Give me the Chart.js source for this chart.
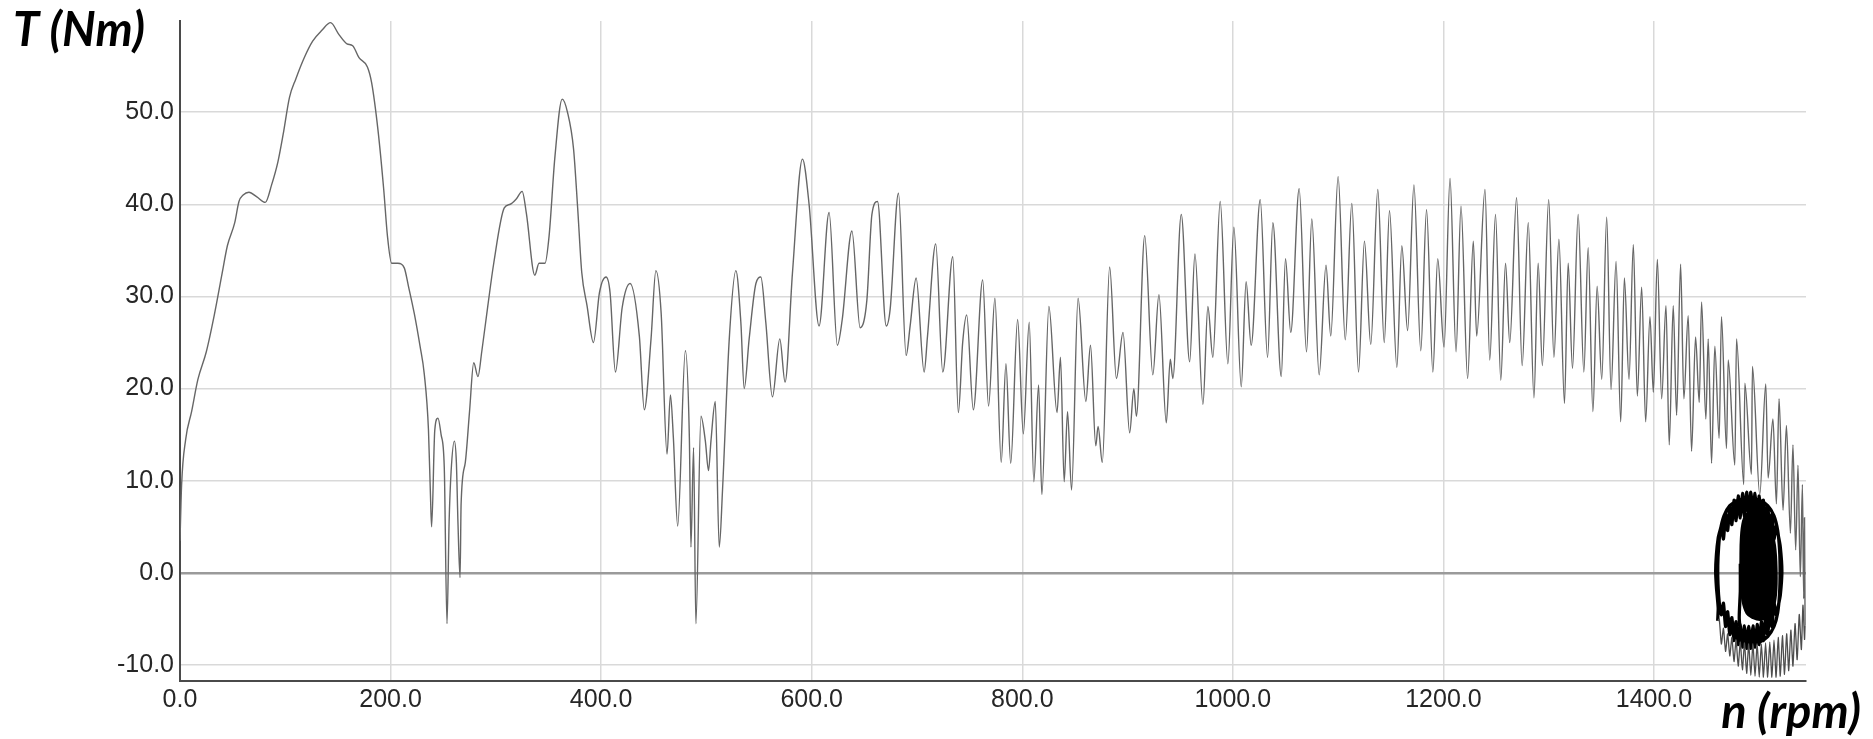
<!DOCTYPE html>
<html>
<head>
<meta charset="utf-8">
<script src="https://cdn.jsdelivr.net/npm/chart.js@4.4.1/dist/chart.umd.min.js"></script>
<style>
  html, body { margin: 0; padding: 0; background: #ffffff; }
  #wrap { position: relative; width: 1873px; height: 739px; }
  canvas { display: block; }
</style>
</head>
<body>
<div id="wrap"><canvas id="c" width="1873" height="739"></canvas></div>
<script>
// ---------------- data ----------------
const yTitle = 'T (Nm)';
const xTitle = 'n (rpm)';
const xTickValues = [0, 200, 400, 600, 800, 1000, 1200, 1400];
const yTickValues = [-10, 0, 10, 20, 30, 40, 50];

// main run-up curve: speed n (rpm) and torque T (Nm)
const speedMain = [
  0, 1.5, 5.4, 11, 17, 25, 32.6, 40, 45, 52, 56, 60, 65.5, 73, 81, 87, 93, 98, 104, 110,
  118, 126, 135, 143, 151, 158.6, 164, 170, 178, 182, 188, 193.5, 197, 201, 207, 213, 217, 222.6, 228, 232,
  236, 238, 239, 242, 245, 248, 251, 253.6, 255.6, 257.5, 260.6, 262.5, 264, 266, 267, 271, 275, 279, 283, 286.6,
  292.4, 298, 308, 313.7, 319.6, 325, 329, 337, 341, 346.7, 350.6, 356, 363, 368, 373.8, 377.7, 381.6, 386.6, 392.7, 398.4,
  404.7, 408.5, 413.6, 420, 427.5, 436.3, 441, 447.4, 452, 457, 462.6, 465.8, 468.6, 472.7, 480, 483.8, 485.3, 487.8, 490, 494.8,
  499, 502, 504.3, 508.4, 512.2, 515.3, 521.7, 528, 532.7, 535.9, 540.6, 547, 551.7, 556.4, 562.7, 569.7, 574.7, 581.7, 591.2, 597.5,
  607, 616.5, 624.4, 629, 638.2, 646, 652.4, 657.2, 662.5, 670.8, 674.5, 682.4, 689.7, 693.5, 699.2, 706.8, 710, 717.8, 724.5, 734,
  739.3, 743.4, 747.2, 753.5, 762.4, 768, 774, 780, 784.5, 789, 795.6, 801, 806.6, 811, 815.5, 818.6, 825.3, 833, 836.3, 839.8,
  843, 846.8, 853, 860.4, 864.8, 869.8, 872, 876, 883, 889.4, 895.7, 902, 906, 908.4, 916.3, 924, 929.8, 936.8, 940.6, 943,
  951, 959, 964, 971.6, 976.3, 981, 988, 995.3, 1001, 1008, 1012.6, 1017.4, 1026, 1033, 1038, 1046, 1050, 1055, 1063, 1070,
  1075, 1082, 1088.5, 1093, 1100, 1106.8, 1113, 1119.4, 1125, 1131, 1137.7, 1143.8, 1148.8, 1155.8, 1160.5, 1166, 1172, 1178.5, 1184, 1190,
  1194.6, 1200.6, 1206.3, 1212, 1216.7, 1223, 1228.4, 1231.6, 1239.5, 1244, 1249.5, 1254.5, 1259, 1263, 1269.5, 1274.8, 1280.6, 1286, 1290, 1294,
  1300, 1305, 1309.7, 1315, 1318.5, 1322.6, 1328, 1333.4, 1337.5, 1342, 1346, 1350.4, 1355.1, 1359.2, 1364, 1368.4, 1371.9, 1376.3, 1380.4, 1384.2,
  1388.3, 1392.1, 1396.2, 1399.4, 1403.2, 1407.3, 1411.4, 1414.5, 1418.3, 1421.5, 1425.3, 1428.4, 1432.5, 1435.7, 1439.5, 1443, 1445.2, 1449.3, 1451.5, 1454.7,
  1457.8, 1461.9, 1464.1, 1468.9, 1470.5, 1476.8, 1478.4, 1485.3, 1486.3, 1492.6, 1493.5, 1500.5, 1506.2, 1508.4, 1513, 1516.3, 1518.8, 1522.6, 1525.8, 1529.6,
  1532, 1534.6, 1536.8, 1539, 1541, 1542.2, 1543, 1543.5
];
const torqueMain = [
  3.5, 9.5, 14.5, 17.5, 21, 24, 28, 32.5, 35.5, 38, 40.3, 41, 41.3, 40.8, 40.2, 42.1, 44.6, 47.6, 51.6, 53.6,
  55.9, 57.7, 58.9, 59.7, 58.4, 57.4, 57.2, 55.9, 54.9, 53.2, 48.1, 41.6, 36.6, 33.6, 33.6, 33.1, 31.1, 28.1, 24.6, 21.6,
  15.5, 8, 5, 15.5, 16.8, 15, 11.5, -5.5, 5.5, 11, 14.3, 12, 5.5, -0.5, 7.5, 12, 17.5, 22.8, 21.3, 24,
  29, 33.6, 39.6, 40, 40.6, 41.4, 39, 32.3, 33.6, 33.6, 36.6, 45, 51.4, 50, 46, 39.6, 32.6, 29, 25, 30.4,
  32.1, 30.4, 21.8, 28.8, 31.4, 25.7, 17.7, 25.4, 32.8, 28.2, 12.9, 19.3, 14.7, 5.1, 24.1, 14.7, 2.8, 13.6, -5.5, 17,
  14.3, 11.1, 14.3, 18.6, 2.8, 9, 25.4, 32.8, 27.2, 20, 25.4, 31.4, 32.1, 27.2, 19.1, 25.4, 20.7, 32.5, 44.9, 40,
  26.8, 39.1, 24.7, 27.5, 37.1, 26.6, 29.6, 38.9, 40.3, 26.8, 28.6, 41.2, 23.6, 26.8, 32, 21.8, 25.7, 35.7, 21.8, 34.3,
  17.4, 25, 28, 17.7, 31.8, 18.1, 29.8, 12, 22.7, 11.9, 27.5, 15.1, 27.2, 9.9, 20.4, 8.5, 28.9, 17.4, 23.4, 9.9,
  17.5, 9, 29.8, 18.6, 24.7, 13.8, 15.9, 12, 33.2, 21.1, 26.1, 15.2, 20, 17, 36.6, 21.5, 30.2, 16.3, 23.2, 21.1,
  38.9, 22.9, 34.6, 18.3, 28.9, 23.4, 40.3, 22.7, 37.5, 20.2, 31.6, 24.7, 40.5, 23.4, 38, 21.3, 34.1, 26.1, 41.7, 24,
  38.4, 21.5, 33.4, 25.7, 43, 25.3, 40.1, 21.8, 36, 24.8, 41.6, 25, 39.3, 22.3, 35.5, 26.3, 42.1, 24.1, 39.4, 21.8,
  34.1, 24.5, 42.8, 24, 39.8, 21.1, 36, 25.7, 41.6, 23.1, 38.9, 20.9, 33.6, 25, 40.7, 22.5, 38, 19, 33.6, 22.5,
  40.5, 23.4, 36.2, 18.4, 33.6, 22.2, 38.9, 21.8, 35.3, 17.5, 31.1, 21, 38.6, 19.9, 33.8, 16.4, 32, 21, 35.6, 19.2,
  31, 16.4, 27.8, 19.6, 34, 18.9, 29, 13.9, 29, 17.1, 33.5, 18.9, 27.9, 13.2, 25.6, 18.5, 29.4, 16.7, 25.4, 11.9,
  24.6, 14.6, 27.8, 13.5, 23.1, 11.7, 25.4, 9.6, 20.6, 10.7, 22.4, 8.5, 20.5, 10.3, 16.7, 7.5, 18.9, 6.8, 16, 4.3,
  13.9, 2.5, 11.7, -0.4, 9.6, -2.8, 6, -5.7
];

// overshoot above synchronous speed: speed falls back while torque ripples (lower hatch)
const speedTail = [
  1543.5, 1543, 1541.5, 1540, 1538, 1536, 1534, 1532, 1530, 1528, 1526, 1524, 1522, 1520, 1518, 1516, 1514, 1512, 1510, 1508,
  1506, 1504, 1502, 1500, 1498, 1496, 1494, 1492, 1490, 1488, 1486, 1484, 1482, 1480, 1478, 1476, 1474, 1472, 1470, 1468,
  1466, 1464, 1462, 1460.5
];
const torqueTail = [
  -5.7, -7.2, -3.5, -8.3, -4.5, -9.4, -5.5, -10.1, -6.2, -10.6, -6.6, -11, -6.8, -11.2, -7, -11.3, -7.3, -11.3, -7.5, -11.3,
  -7.6, -11.3, -7.7, -11.3, -7.7, -11.2, -7.7, -11.1, -7.7, -10.9, -7.6, -10.5, -7.5, -10.1, -7.3, -9.6, -7, -9, -6.6, -8.5,
  -6, -7.7, -5, -5.2
];

// speed hunting around steady state: the dense black ring of the "eye"
const speedRing = [
  1460.5, 1461, 1459.3, 1458.6, 1459.3, 1461, 1462.5,
  1464, 1466, 1468, 1470, 1472, 1474, 1476, 1478, 1480, 1482, 1484, 1486, 1488, 1490,
  1492, 1494, 1496, 1498, 1500, 1502, 1504, 1506, 1508, 1510, 1512, 1514, 1516,
  1518, 1520, 1521.5, 1520, 1518,
  1516, 1514, 1512, 1510, 1508, 1506, 1504, 1502, 1500, 1498, 1496, 1494, 1492, 1490,
  1488, 1486, 1484, 1482, 1480, 1478, 1476, 1474, 1472, 1470, 1468, 1466, 1464,
  1462, 1460.8, 1460.6,
  1461.4, 1463, 1466.5, 1472, 1480, 1490, 1500, 1508, 1514, 1517.5, 1519.3, 1519.8, 1519.3, 1517.5, 1514, 1508, 1500, 1490, 1484,
  1481, 1482, 1482
];
const torqueRing = [
  -5.2, -3.8, -1.5, 0.2, 2, 3.8, 4.5,
  5.06, 3.69, 6.35, 4.61, 7.26, 5.24, 7.9, 5.68, 8.35, 5.98, 8.64, 6.14, 8.78, 6.2,
  8.78, 6.14, 8.64, 5.98, 8.35, 5.68, 7.9, 5.24, 7.26, 4.61, 6.35, 3.69, 5.06,
  4.1, 2.8, 0.2, -2.4, -3.6,
  -4.55, -3.29, -5.81, -4.21, -6.69, -4.84, -7.32, -5.28, -7.77, -5.58, -8.05, -5.74, -8.18, -5.8,
  -8.18, -5.74, -8.05, -5.58, -7.77, -5.28, -7.32, -4.84, -6.69, -4.21, -5.81, -3.29, -4.55,
  -3.2, -1.2, 0.8,
  2.8, 4.6, 6.2, 7.3, 7.9, 8.1, 7.9, 7.3, 6.2, 4.6, 2.5, 0.2, -2.2, -4.3, -5.8, -6.9, -7.5, -7.7, -7.4,
  -5, -2, 1
];

// final settling: the dense dark core ("pupil")
const speedCore = [1482, 1482.5, 1484.5, 1488, 1494, 1500, 1506, 1511, 1515, 1516.5, 1516, 1513, 1508, 1501, 1494, 1488, 1484, 1482, 1482];
const torqueCore = [1, 3.8, 5.6, 6.4, 6.7, 6.6, 6.1, 5, 3, 0.3, -2.3, -4, -4.8, -5.1, -4.9, -4.4, -3, -0.5, 1];

// ---------------- chart ----------------
function zipPoints(xs, ys) {
  const n = Math.min(xs.length, ys.length);
  const out = [];
  for (let i = 0; i < n; i++) out.push({ x: xs[i], y: ys[i] });
  return out;
}

const tickFont = { family: "'Liberation Sans', Arial, sans-serif", size: 25 };
const titleFont = "italic bold 47px Lato, 'Open Sans', sans-serif";

const axisTitles = {
  id: 'axisTitles',
  afterDraw(chart) {
    const ctx = chart.ctx;
    ctx.save();
    ctx.font = titleFont;
    ctx.fillStyle = '#000000';
    ctx.textBaseline = 'alphabetic';
    ctx.textAlign = 'left';
    ctx.fillText(yTitle, 13, 46);
    ctx.textAlign = 'right';
    ctx.fillText(xTitle, 1861, 728);
    ctx.restore();
  }
};

new Chart(document.getElementById('c'), {
  type: 'scatter',
  data: {
    datasets: [
      {
        data: zipPoints(speedMain, torqueMain),
        showLine: true, borderColor: '#666666', borderWidth: 1.4,
        pointRadius: 0, cubicInterpolationMode: 'monotone', fill: false
      },
      {
        data: zipPoints(speedTail, torqueTail),
        showLine: true, borderColor: '#4e4e4e', borderWidth: 1.3,
        pointRadius: 0, tension: 0.2, fill: false
      },
      {
        data: zipPoints(speedRing, torqueRing),
        showLine: true, borderColor: '#000000', borderWidth: 3.3,
        pointRadius: 0, tension: 0.2, fill: false
      },
      {
        data: zipPoints(speedCore, torqueCore),
        showLine: true, borderColor: '#000000', borderWidth: 2,
        backgroundColor: '#000000', pointRadius: 0, tension: 0.4, fill: 'shape'
      }
    ]
  },
  options: {
    responsive: false,
    animation: false,
    devicePixelRatio: 1,
    layout: { padding: { left: 0, right: 67, top: 9, bottom: 0 } },
    plugins: { legend: { display: false }, tooltip: { enabled: false } },
    scales: {
      x: {
        type: 'linear', min: 0, max: 1544.4,
        afterBuildTicks: (axis) => { axis.ticks = xTickValues.map(v => ({ value: v })); },
        afterFit: (axis) => { axis.height = 58; },
        grid: {
          drawTicks: false, lineWidth: 1.5,
          color: (c) => (c.tick && c.tick.value === 0) ? 'rgba(0,0,0,0)' : '#d9d9d9'
        },
        border: { color: '#4a4a4a', width: 2 },
        ticks: {
          font: tickFont, color: '#262626', padding: 4, maxRotation: 0, autoSkip: false,
          callback: (v) => Number(v).toFixed(1)
        }
      },
      y: {
        type: 'linear', min: -11.72, max: 59.88,
        afterBuildTicks: (axis) => { axis.ticks = yTickValues.map(v => ({ value: v })); },
        afterFit: (axis) => { axis.width = 180; },
        grid: {
          drawTicks: false,
          lineWidth: (c) => (c.tick && c.tick.value === 0) ? 2.5 : 1.5,
          color: (c) => (c.tick && c.tick.value === 0) ? '#9a9a9a' : '#d9d9d9'
        },
        border: { color: '#4a4a4a', width: 2 },
        ticks: {
          font: tickFont, color: '#262626', padding: 6, autoSkip: false,
          callback: (v) => Number(v).toFixed(1)
        }
      }
    }
  },
  plugins: [axisTitles]
});
</script>
</body>
</html>
